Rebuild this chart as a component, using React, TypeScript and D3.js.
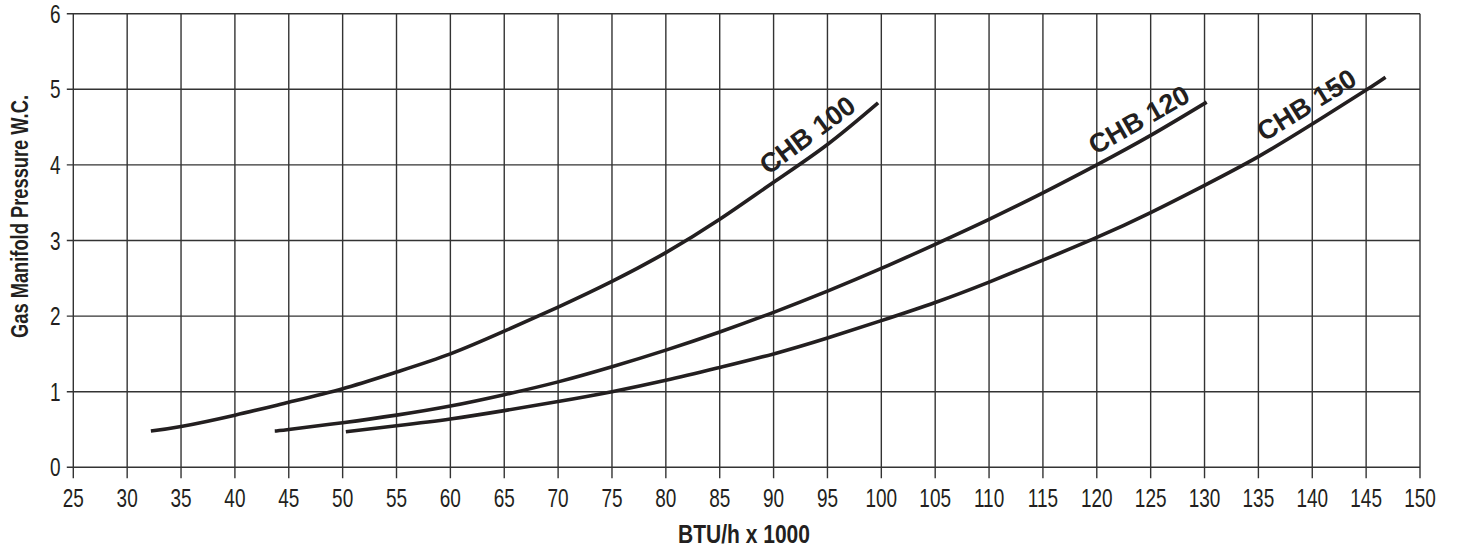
import React from "react";
import * as d3 from "d3";

// ---- data ----
const xTicks = [25, 30, 35, 40, 45, 50, 55, 60, 65, 70, 75, 80, 85, 90, 95, 100, 105, 110, 115, 120, 125, 130, 135, 140, 145, 150];
const yTicks = [0, 1, 2, 3, 4, 5, 6];

const chb100: [number, number][] = [
  [32.2, 0.48], [35, 0.54], [40, 0.69], [45, 0.86], [50, 1.04], [55, 1.26], [60, 1.5],
  [65, 1.8], [70, 2.12], [75, 2.46], [80, 2.84], [85, 3.28], [90, 3.77], [95, 4.27], [99.7, 4.82],
];
const chb120: [number, number][] = [
  [43.7, 0.48], [45, 0.5], [50, 0.59], [55, 0.69], [60, 0.81], [65, 0.96], [70, 1.13], [75, 1.33],
  [80, 1.55], [85, 1.79], [90, 2.05], [95, 2.33], [100, 2.63], [105, 2.95], [110, 3.28], [115, 3.63],
  [120, 4.0], [125, 4.39], [130.2, 4.83],
];
const chb150: [number, number][] = [
  [50.3, 0.47], [55, 0.55], [60, 0.64], [65, 0.75], [70, 0.87], [75, 1.0], [80, 1.15], [85, 1.32],
  [90, 1.5], [95, 1.71], [100, 1.94], [105, 2.18], [110, 2.45], [115, 2.74], [120, 3.04], [125, 3.37],
  [130, 3.73], [135, 4.11], [140, 4.54], [145, 4.99], [146.8, 5.16],
];
const seriesNames = ["CHB 100", "CHB 120", "CHB 150"];
const seriesData = [chb100, chb120, chb150];
const labelAt = [94.2, 124.8, 140.4];

const xTitle = "BTU/h x 1000";
const yTitle = "Gas Manifold Pressure W.C.";

// ---- layout ----
const W = 1457;
const H = 553;
const left = 73.3;
const right = 1420;
const top = 13.7;
const bottom = 467.3;

function interp(data: [number, number][], x: number) {
  for (let i = 0; i < data.length - 1; i++) {
    const [x0, y0] = data[i];
    const [x1, y1] = data[i + 1];
    if (x >= x0 && x <= x1) return y0 + ((y1 - y0) * (x - x0)) / (x1 - x0);
  }
  return data[data.length - 1][1];
}

export default function App() {
  const x = d3.scaleLinear().domain([25, 150]).range([left, right]);
  const y = d3.scaleLinear().domain([0, 6]).range([bottom, top]);
  const line = d3
    .line<[number, number]>()
    .x((d) => x(d[0]))
    .y((d) => y(d[1]))
    .curve(d3.curveNatural);

  const gridColor = "#333";
  const font = "'Liberation Sans', Arial, sans-serif";
  const sx = 0.76;

  return (
    <svg
      width={W}
      height={H}
      style={{ position: "absolute", left: 0, top: 0, background: "#fff" }}
    >
      <rect x={0} y={0} width={W} height={H} fill="#fff" />
      {/* vertical grid + ticks */}
      {xTicks.map((t) => (
        <line key={"vx" + t} x1={x(t)} x2={x(t)} y1={top} y2={bottom + 11} stroke={gridColor} strokeWidth={1.4} />
      ))}
      {/* horizontal grid + ticks */}
      {yTicks.map((t) => (
        <line key={"hy" + t} x1={left - 6.5} x2={right} y1={y(t)} y2={y(t)} stroke={gridColor} strokeWidth={1.4} />
      ))}
      {/* x tick labels */}
      {xTicks.map((t) => (
        <text
          key={"xl" + t}
          transform={`translate(${x(t)},507) scale(${sx},1)`}
          textAnchor="middle"
          fontFamily={font}
          fontSize={25}
          fill="#231f20"
        >
          {t}
        </text>
      ))}
      {/* y tick labels */}
      {yTicks.map((t) => (
        <text
          key={"yl" + t}
          transform={`translate(60.5,${y(t)}) scale(${sx},1)`}
          dy="0.36em"
          textAnchor="end"
          fontFamily={font}
          fontSize={25}
          fill="#231f20"
        >
          {t}
        </text>
      ))}
      {/* curves */}
      {seriesData.map((d, i) => (
        <path key={"s" + i} d={line(d) || ""} fill="none" stroke="#231f20" strokeWidth={3.6} />
      ))}
      {/* curve labels */}
      {seriesData.map((d, i) => {
        const xv = labelAt[i];
        const px = x(xv);
        const py = y(interp(d, xv));
        const ax = x(xv - 2), ay = y(interp(d, xv - 2));
        const bx = x(xv + 2), by = y(interp(d, xv + 2));
        const ang = (Math.atan2(by - ay, bx - ax) * 180) / Math.PI;
        const rad = (ang * Math.PI) / 180;
        const off = 10;
        const nx = Math.sin(rad) * off;
        const ny = -Math.cos(rad) * off;
        return (
          <text
            key={"lab" + i}
            x={0}
            y={0}
            transform={`translate(${px + nx},${py + ny}) rotate(${ang})`}
            textAnchor="middle"
            fontFamily={font}
            fontWeight="bold"
            fontSize={27}
            fill="#231f20"
          >
            {seriesNames[i]}
          </text>
        );
      })}
      {/* axis titles */}
      <text
        x={744}
        y={543}
        textAnchor="middle"
        fontFamily={font}
        fontWeight="bold"
        fontSize={26}
        textLength={132}
        lengthAdjust="spacingAndGlyphs"
        fill="#231f20"
      >
        {xTitle}
      </text>
      <text
        transform="translate(27.5,216.5) rotate(-90)"
        textAnchor="middle"
        fontFamily={font}
        fontWeight="bold"
        fontSize={24}
        textLength={243}
        lengthAdjust="spacingAndGlyphs"
        fill="#231f20"
      >
        {yTitle}
      </text>
    </svg>
  );
}
